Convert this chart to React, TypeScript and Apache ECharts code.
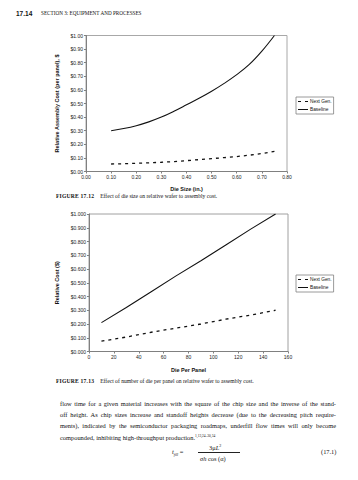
import React, { useEffect, useRef } from "react";
import * as echarts from "echarts";

// Figure 17.12 data (die size, in.)
const dieSizes = [0.1, 0.15, 0.2, 0.25, 0.3, 0.35, 0.4, 0.45, 0.5, 0.55, 0.6, 0.65, 0.7, 0.75];
const baselineBySize = [0.3, 0.316, 0.337, 0.365, 0.4, 0.443, 0.49, 0.538, 0.59, 0.648, 0.712, 0.787, 0.885, 1.0];
const nextGenBySize = [0.055, 0.057, 0.06, 0.064, 0.068, 0.073, 0.08, 0.087, 0.095, 0.102, 0.11, 0.12, 0.132, 0.148];

// Figure 17.13 data (die per panel)
const diePerPanel = [10, 30, 50, 70, 90, 110, 130, 150];
const baselineByPanel = [0.21, 0.32, 0.435, 0.55, 0.66, 0.775, 0.89, 1.0];
const nextGenByPanel = [0.075, 0.105, 0.14, 0.17, 0.2, 0.235, 0.265, 0.3];

const seriesNames = ["Next Gen.", "Baseline"];

const SANS = "Liberation Sans, Arial, sans-serif";
const SERIF = "Liberation Serif, Times New Roman, serif";

const paragraph = [
  "flow time for a given material increases with the square of the chip size and the inverse of the stand-",
  "off height. As chip sizes increase and standoff heights decrease (due to the decreasing pitch require-",
  "ments), indicated by the semiconductor packaging roadmaps, underfill flow times will only become",
];

function T(props: { x: number; y: number; size: number; children: React.ReactNode; style?: React.CSSProperties }) {
  const { x, y, size, children, style } = props;
  return (
    <div
      style={{
        position: "absolute",
        left: x,
        top: y - size,
        height: size * 2,
        lineHeight: `${size * 2}px`,
        fontSize: size,
        whiteSpace: "nowrap",
        color: "#111",
        ...style,
      }}
    >
      {children}
    </div>
  );
}

export default function App() {
  const ref = useRef<HTMLDivElement>(null);
  useEffect(() => {
    if (!ref.current) return;
    const chart = echarts.init(ref.current, null, { renderer: "svg" });
    const axisLabel = { fontSize: 5, color: "#222", fontFamily: SANS, margin: 3 };
    const axisLine = { show: true, lineStyle: { color: "#808080", width: 1 } };
    const axisTick = { show: true, length: 2, lineStyle: { color: "#808080" } };
    const nameStyle = { fontSize: 5.5, fontWeight: "bold" as const, color: "#111", fontFamily: SANS };
    const dashed = { color: "#111", width: 1.3, type: [3, 4] as number[] };
    const solid = { color: "#111", width: 1.1, type: "solid" as const };
    const legendBase = {
      orient: "vertical" as const,
      left: 296,
      data: [
        { name: seriesNames[0], icon: "path://M0,0h3v1h-3zM7,0h3v1h-3z" },
        { name: seriesNames[1], icon: "path://M0,0h10v1h-10z" },
      ],
      itemWidth: 10,
      itemHeight: 1.1,
      itemGap: 3,
      padding: [2, 2, 2, 2],
      borderColor: "#808080",
      borderWidth: 0.8,
      backgroundColor: "#fff",
      itemStyle: { color: "#111", borderWidth: 0 },
      lineStyle: { width: 0 },
      textStyle: { fontSize: 4.8, color: "#111", fontFamily: SANS, padding: [0, 0, 0, -3] },
      selectedMode: false,
    };
    chart.setOption({
      animation: false,
      grid: [
        { left: 86, top: 35.5, width: 201, height: 136, show: true, borderColor: "#a8a8a8", borderWidth: 1, backgroundColor: "#fff" },
        { left: 89, top: 214, width: 199, height: 137.5, show: true, borderColor: "#a0a0a0", borderWidth: 1, backgroundColor: "#fff" },
      ],
      legend: [
        { ...legendBase, top: 97 },
        { ...legendBase, top: 275 },
      ],
      xAxis: [
        {
          type: "value", gridIndex: 0, min: 0, max: 0.8, interval: 0.1,
          axisLabel: { ...axisLabel, formatter: (v: number) => v.toFixed(2) },
          axisLine, axisTick, splitLine: { show: false },
          name: "Die Size (in.)", nameLocation: "middle", nameGap: 14, nameTextStyle: nameStyle,
        },
        {
          type: "value", gridIndex: 1, min: 0, max: 160, interval: 20,
          axisLabel: { ...axisLabel, formatter: (v: number) => String(v) },
          axisLine, axisTick, splitLine: { show: false },
          name: "Die Per Panel", nameLocation: "middle", nameGap: 15, nameTextStyle: nameStyle,
        },
      ],
      yAxis: [
        {
          type: "value", gridIndex: 0, min: 0, max: 1, interval: 0.1,
          axisLabel: { ...axisLabel, formatter: (v: number) => "$" + v.toFixed(2) },
          axisLine, axisTick, splitLine: { show: false },
          name: "Relative Assembly Cost (per panel), $", nameLocation: "middle", nameGap: 21, nameTextStyle: nameStyle,
        },
        {
          type: "value", gridIndex: 1, min: 0, max: 1, interval: 0.1,
          axisLabel: { ...axisLabel, formatter: (v: number) => "$" + v.toFixed(3) },
          axisLine, axisTick, splitLine: { show: false },
          name: "Relative Cost ($)", nameLocation: "middle", nameGap: 26, nameTextStyle: nameStyle,
        },
      ],
      series: [
        {
          name: seriesNames[0], type: "line", xAxisIndex: 0, yAxisIndex: 0, symbol: "none",
          lineStyle: dashed, itemStyle: { color: "#111" },
          data: dieSizes.map((x, i) => [x, nextGenBySize[i]]),
        },
        {
          name: seriesNames[1], type: "line", xAxisIndex: 0, yAxisIndex: 0, symbol: "none", smooth: 0.4,
          lineStyle: solid, itemStyle: { color: "#111" },
          data: dieSizes.map((x, i) => [x, baselineBySize[i]]),
        },
        {
          name: seriesNames[0], type: "line", xAxisIndex: 1, yAxisIndex: 1, symbol: "none",
          lineStyle: dashed, itemStyle: { color: "#111" },
          data: diePerPanel.map((x, i) => [x, nextGenByPanel[i]]),
        },
        {
          name: seriesNames[1], type: "line", xAxisIndex: 1, yAxisIndex: 1, symbol: "none",
          lineStyle: solid, itemStyle: { color: "#111" },
          data: diePerPanel.map((x, i) => [x, baselineByPanel[i]]),
        },
      ],
    });
    return () => chart.dispose();
  }, []);

  return (
    <div style={{ position: "absolute", left: 0, top: 0, width: 358, height: 480, background: "#fff", fontFamily: SERIF }}>
      <div ref={ref} style={{ position: "absolute", left: 0, top: 0, width: 358, height: 480 }} />
      <T x={16} y={13} size={6.5} style={{ fontFamily: SANS, fontWeight: "bold" }}>17.14</T>
      <T x={41} y={13} size={5.2}>SECTION 3: EQUIPMENT AND PROCESSES</T>

      <T x={56} y={197} size={5.6}>
        <span style={{ fontWeight: "bold", letterSpacing: 0.2 }}>FIGURE 17.12</span>
        <span style={{ marginLeft: 6 }}>Effect of die size on relative wafer to assembly cost.</span>
      </T>
      <T x={56} y={382} size={5.6}>
        <span style={{ fontWeight: "bold", letterSpacing: 0.2 }}>FIGURE 17.13</span>
        <span style={{ marginLeft: 6 }}>Effect of number of die per panel on relative wafer to assembly cost.</span>
      </T>

      {paragraph.map((line, i) => (
        <div
          key={i}
          style={{
            position: "absolute", left: 60, top: 398 + i * 11, width: 276, fontSize: 6.4, lineHeight: "11px",
            textAlign: "justify", textAlignLast: "justify", whiteSpace: "nowrap", color: "#111",
          }}
        >
          {line}
        </div>
      ))}
      <div style={{ position: "absolute", left: 60, top: 431, fontSize: 6.4, lineHeight: "11px", whiteSpace: "nowrap", color: "#111" }}>
        compounded, inhibiting high-throughput production.<sup style={{ fontSize: 3.5 }}>1,13,24–30,34</sup>
      </div>

      <T x={172} y={452} size={6.4}>
        <i>t</i><sub style={{ fontSize: 4 }}><i>fill</i></sub> =
      </T>
      <T x={209} y={446} size={6.4}>3μ<i>L</i><sup style={{ fontSize: 4 }}>2</sup></T>
      <div style={{ position: "absolute", left: 198, top: 451.5, width: 42, height: 0.7, background: "#222" }} />
      <T x={200} y={459} size={6.4}><i>σh</i> cos (α)</T>
      <T x={321} y={452} size={6.4}>(17.1)</T>
    </div>
  );
}
